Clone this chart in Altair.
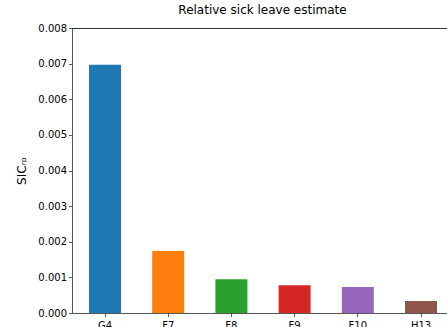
import altair as alt
import pandas as pd

# Relative sick-leave estimate per group
groups = ["G4", "F7", "F8", "F9", "F10", "H13"]
sic_rp = [0.00697, 0.00174, 0.00095, 0.00078, 0.00073, 0.00034]
colors = ["#1f77b4", "#ff7f0e", "#2ca02c", "#d62728", "#9467bd", "#8c564b"]

df = pd.DataFrame({"group": groups, "value": sic_rp})

FONT = "DejaVu Sans"
SPINE = "#333333"

bars = alt.Chart(df).mark_bar(opacity=1).encode(
    x=alt.X(
        "group:N",
        sort=groups,
        scale=alt.Scale(paddingInner=0.494, paddingOuter=0.2136, align=0.63),
        axis=alt.Axis(
            title=None, labelAngle=0, labelFont=FONT, labelFontSize=10,
            labelColor="black", tickColor=SPINE, tickSize=3.5,
            domainColor=SPINE, domainWidth=0.8, tickWidth=0.8,
            labelPadding=4,
        ),
    ),
    y=alt.Y(
        "value:Q",
        scale=alt.Scale(domain=[0, 0.008], nice=False),
        axis=alt.Axis(
            title="SICᵣₚ", titleFont=FONT, titleFontSize=12,
            titleFontWeight="normal", titleColor="black", titlePadding=9,
            values=[0, 0.001, 0.002, 0.003, 0.004, 0.005, 0.006, 0.007, 0.008],
            format=".3f", labelFont=FONT, labelFontSize=10, labelColor="black",
            tickColor=SPINE, tickSize=3.5, tickWidth=0.8,
            domainColor=SPINE, domainWidth=0.8, grid=False, labelPadding=2,
        ),
    ),
    color=alt.Color("group:N", sort=groups,
                    scale=alt.Scale(domain=groups, range=colors), legend=None),
)

# top spine
top = alt.Chart(df).mark_rule(color=SPINE, strokeWidth=0.8).encode(
    x=alt.value(0), x2=alt.value(375), y=alt.value(0.5)
)

chart = alt.layer(bars, top).properties(
    width=375,
    height=285,
    title=alt.TitleParams(
        "Relative sick leave estimate", font=FONT, fontSize=12,
        fontWeight="normal", color="black", anchor="middle", dx=3, offset=6,
    ),
    autosize=alt.AutoSizeParams(type="none"),
    padding={"left": 72, "top": 28, "right": 0, "bottom": 14},
).configure_view(stroke=None).configure(background="white")

chart.save("out.html", embed_options={"renderer": "svg", "actions": False})
